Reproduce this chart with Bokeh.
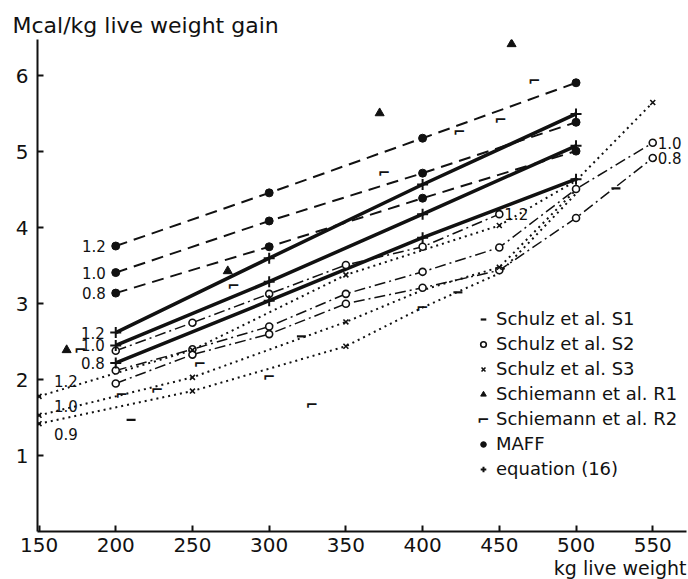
from bokeh.plotting import figure
from bokeh.models import Range1d, FixedTicker, Legend, LegendItem, Label, Title
from bokeh.core.properties import value
from bokeh.embed import file_html
from bokeh.resources import INLINE

# ---------------- data ----------------
x_ticks = [150, 200, 250, 300, 350, 400, 450, 500, 550]
y_ticks = [1, 2, 3, 4, 5, 6]

# MAFF (dashed, filled circles)
maff_w = [200, 300, 400, 500]
maff_12 = [3.76, 4.46, 5.18, 5.91]
maff_10 = [3.41, 4.09, 4.72, 5.39]
maff_08 = [3.14, 3.75, 4.39, 5.01]

# equation (16) (solid, crosses)
eq_w = [200, 300, 400, 500]
eq_12 = [2.62, 3.60, 4.57, 5.50]
eq_10 = [2.45, 3.29, 4.18, 5.08]
eq_08 = [2.22, 3.04, 3.87, 4.64]

# Schulz et al. S2 (dash-dot, open circles)
s2_w12 = [200, 250, 300, 350, 400, 450]
s2_12 = [2.38, 2.75, 3.13, 3.51, 3.75, 4.18]
s2_w = [200, 250, 300, 350, 400, 450, 500, 550]
s2_10 = [2.12, 2.40, 2.70, 3.13, 3.42, 3.74, 4.51, 5.12]
s2_08 = [1.95, 2.33, 2.60, 3.00, 3.21, 3.44, 4.13, 4.92]

# Schulz et al. S3 (dotted, x markers)
s3_w12 = [150, 250, 350, 450, 500, 550]
s3_12 = [1.78, 2.39, 3.38, 4.03, 4.62, 5.65]
s3_w10 = [150, 250, 350, 400, 450, 500]
s3_10 = [1.53, 2.03, 2.76, 3.18, 3.48, 4.50]
s3_w09 = [150, 250, 350, 400, 450, 500]
s3_09 = [1.42, 1.85, 2.44, 2.95, 3.40, 4.45]
s3_mark_w = [150, 250, 350, 450, 550, 150, 250, 350, 450, 150, 250, 350]
s3_mark_y = [1.78, 2.39, 3.38, 4.03, 5.65, 1.53, 2.03, 2.76, 3.48, 1.42, 1.85, 2.44]

# Schulz et al. S1 (dash markers)
s1_w = [210, 321, 423, 526]
s1_y = [1.47, 2.57, 3.15, 4.52]

# Schiemann et al. R1 (triangles)
r1_w = [168, 273, 372, 458]
r1_y = [2.39, 3.43, 5.51, 6.42]

# Schiemann et al. R2 (corner markers)
r2_w = [177, 204, 227, 255, 277, 300, 328, 375, 400, 424, 451, 473]
r2_y = [2.39, 1.80, 1.86, 2.20, 3.24, 2.03, 1.66, 4.72, 2.95, 5.26, 5.42, 5.93]

FONT = "DejaVu Sans"
INK = "#111111"
R2_MARK = "\u2310"

p = figure(width=688, height=579, output_backend="svg", toolbar_location=None,
           x_range=Range1d(149, 572), y_range=Range1d(0, 6.48),
           min_border_left=37, min_border_right=2, min_border_top=39, min_border_bottom=48)
p.outline_line_color = None
p.grid.visible = False
p.background_fill_color = "white"

for ax in (p.xaxis[0], p.yaxis[0]):
    ax.axis_line_width = 2
    ax.axis_line_color = INK
    ax.major_tick_in = 6
    ax.major_tick_out = 0
    ax.major_tick_line_width = 2
    ax.major_tick_line_color = INK
    ax.minor_tick_line_color = None
    ax.major_label_text_font = FONT
    ax.major_label_text_font_size = "20px"
    ax.major_label_text_color = INK
    ax.major_label_standoff = 9
p.xaxis[0].major_label_standoff = 6
p.xaxis[0].ticker = FixedTicker(ticks=x_ticks)
p.yaxis[0].ticker = FixedTicker(ticks=y_ticks)

# ---------- lines ----------
for ys in (maff_12, maff_10, maff_08):
    p.line(maff_w, ys, line_width=2, line_color=INK, line_dash="12 7")
for ys in (eq_12, eq_10, eq_08):
    p.line(eq_w, ys, line_width=3.5, line_color=INK)
p.line(s2_w12, s2_12, line_width=1.5, line_color=INK, line_dash="11 4 2 4")
for ys in (s2_10, s2_08):
    p.line(s2_w, ys, line_width=1.5, line_color=INK, line_dash="11 4 2 4")
for xs, ys in ((s3_w12, s3_12), (s3_w10, s3_10), (s3_w09, s3_09)):
    p.line(xs, ys, line_width=2, line_color=INK, line_dash="2 4")

# ---------- markers ----------
r_s1 = p.scatter(s1_w, s1_y, marker="dash", size=9, line_width=2.2, line_color=INK)
r_s2 = p.scatter(s2_w12 + s2_w + s2_w, s2_12 + s2_10 + s2_08, marker="circle", size=7,
                 line_width=1.6, line_color=INK, fill_color="white")
r_s3 = p.scatter(s3_mark_w, s3_mark_y, marker="x", size=7, line_width=1.6, line_color=INK)
r_r1 = p.scatter(r1_w, r1_y, marker="triangle", size=9, line_color=INK, fill_color=INK)
r_r2 = p.text(r2_w, r2_y, text=[R2_MARK] * len(r2_w), text_font=value(FONT),
              text_font_size="15px", text_font_style="bold", text_align="center",
              text_baseline="middle", text_color=INK)
r_maff = p.scatter(maff_w * 3, maff_12 + maff_10 + maff_08, marker="circle", size=8,
                   line_color=INK, fill_color=INK)
r_eq = p.scatter(eq_w * 3, eq_12 + eq_10 + eq_08, marker="cross", size=11,
                 line_width=2, line_color=INK)

# ---------- level labels ----------
lab = dict(text_font=value(FONT), text_font_size="15px", text_color=INK)
p.text([maff_w[0]] * 3, [maff_12[0], maff_10[0], maff_08[0]], text=["1.2", "1.0", "0.8"],
       x_offset=-10, text_align="right", text_baseline="middle", **lab)
p.text([eq_w[0]] * 3, [eq_12[0], eq_10[0], eq_08[0]], text=["1.2", "1.0", "0.8"],
       x_offset=-11, text_align="right", text_baseline="middle", **lab)
p.text([s3_w12[0], s3_w10[0], s3_w09[0]], [s3_12[0], s3_10[0], s3_09[0]],
       text=["1.2", "1.0", "0.9"], x_offset=15, y_offset=[-15, -9, 10],
       text_align="left", text_baseline="middle", **lab)
p.text([s2_w12[-1], s2_w[-1], s2_w[-1]], [s2_12[-1], s2_10[-1], s2_08[-1]],
       text=["1.2", "1.0", "0.8"], x_offset=5, text_align="left", text_baseline="middle", **lab)

# ---------- legend ----------
legend = Legend(items=[
    LegendItem(label="Schulz et al. S1", renderers=[r_s1]),
    LegendItem(label="Schulz et al. S2", renderers=[r_s2]),
    LegendItem(label="Schulz et al. S3", renderers=[r_s3]),
    LegendItem(label="Schiemann et al. R1", renderers=[r_r1]),
    LegendItem(label="Schiemann et al. R2", renderers=[r_r2]),
    LegendItem(label="MAFF", renderers=[r_maff]),
    LegendItem(label="equation (16)", renderers=[r_eq]),
], location=(439, 52), padding=0, margin=0, spacing=4, glyph_height=20, glyph_width=14,
    label_height=20, label_standoff=6, border_line_color=None, background_fill_alpha=0,
    label_text_font=FONT, label_text_font_size="18px", label_text_color=INK)
p.add_layout(legend)
# symbol for the R2 legend row (text glyphs draw no legend swatch)
p.add_layout(Label(x=446, y=112, x_units="screen", y_units="screen", text=R2_MARK,
                   text_font=FONT, text_font_size="15px", text_font_style="bold",
                   text_align="center", text_baseline="middle", text_color=INK))

# ---------- axis titles ----------
p.add_layout(Title(text="Mcal/kg live weight gain", align="left", offset=-25, standoff=4,
                   text_font=FONT, text_font_size="22px", text_font_style="normal",
                   text_color=INK), "above")
p.add_layout(Title(text="kg live weight", align="right", offset=0, standoff=0,
                   text_font=FONT, text_font_size="19px", text_font_style="normal",
                   text_color=INK), "below")

open("out.html", "w").write(file_html(p, INLINE))
